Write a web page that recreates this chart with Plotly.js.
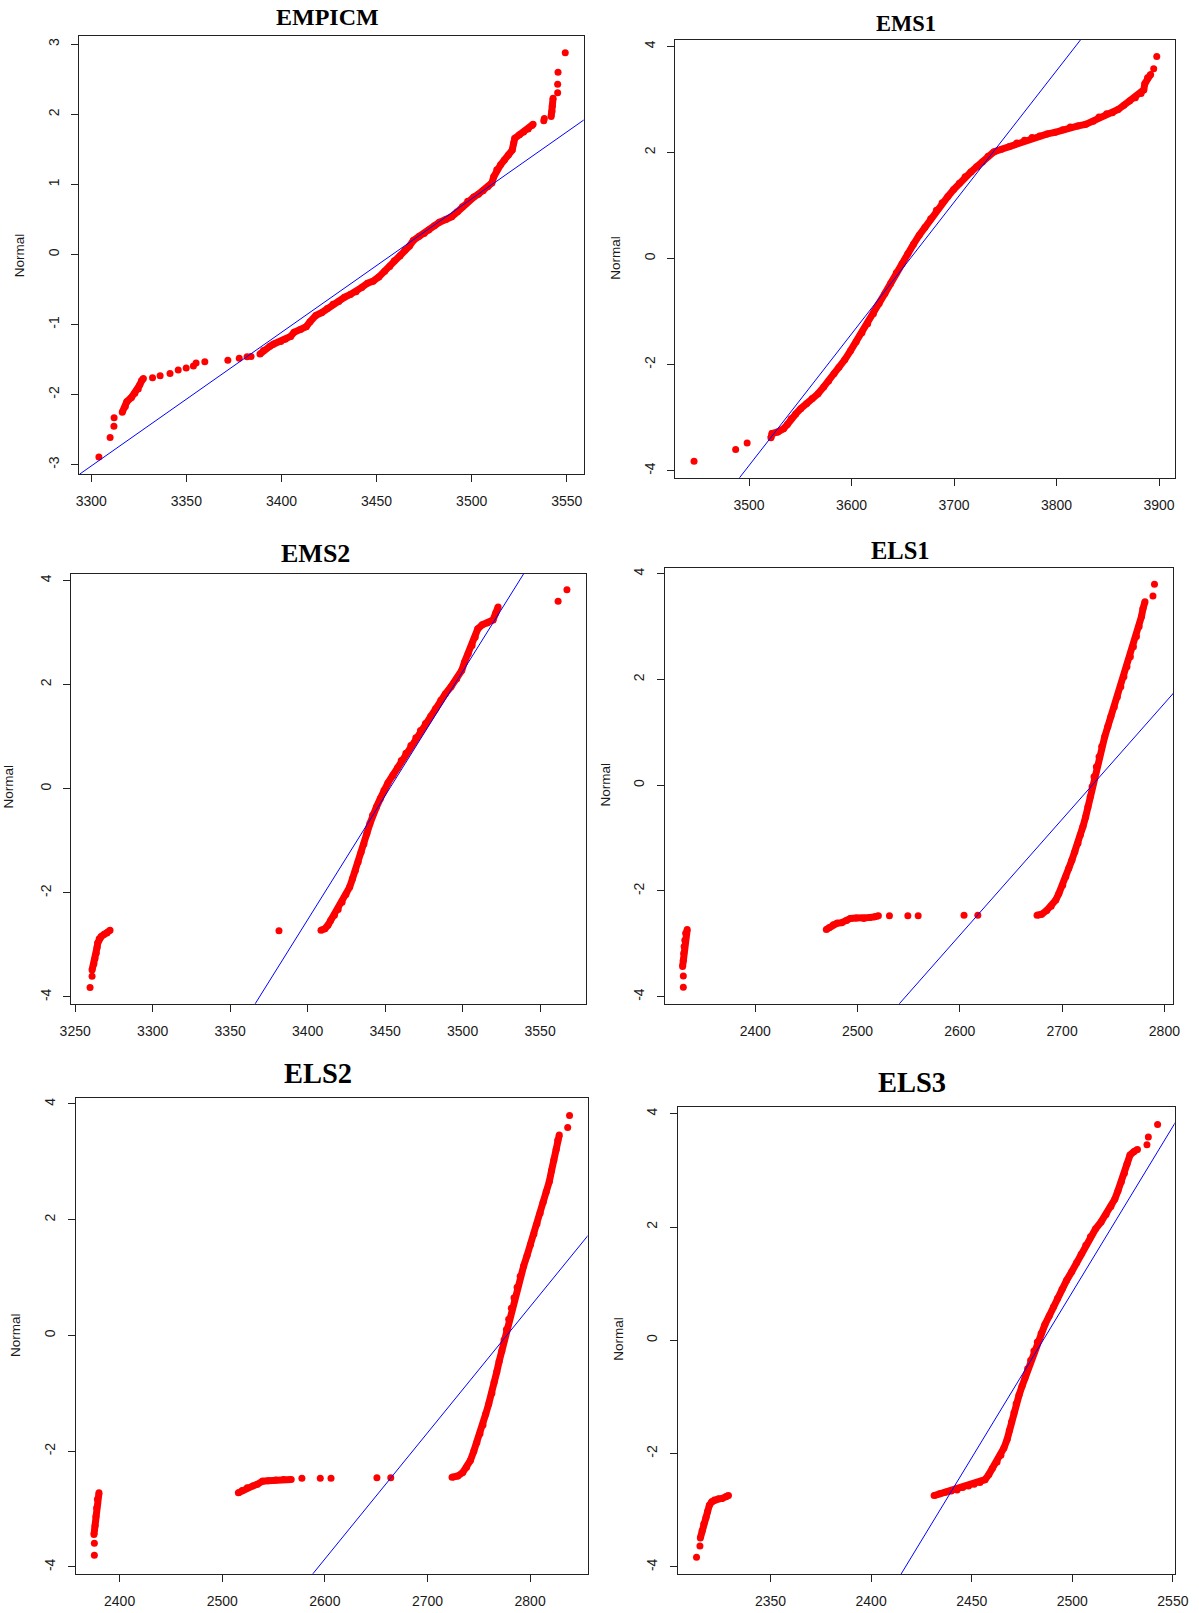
<!DOCTYPE html>
<html>
<head>
<meta charset="utf-8">
<script src="https://cdn.plot.ly/plotly-3.0.1.min.js"></script>
<style>
  html, body { margin: 0; padding: 0; background: #ffffff; }
  #chart { width: 1199px; height: 1613px; }
</style>
</head>
<body>
<div id="chart"></div>
<script>
// Normal Q-Q plots: sorted sample value (x) against the normal quantile (y).
// "Curve" arrays hold densely packed runs of points (runs separated by null),
// "Dot" arrays hold the isolated points, "Line" arrays the reference qq-line.

// ---- EMPICM ----
const empicmCurveX = [3316.3,3317.9,3318.7,3321.1,3322.9,3324.7,3325.5,3326.5,3327.4, null,
  3388.7,3390.5,3393.9,3395.7,3399.6,3402.0,3404.8,3406.6,3410.0,3413.0,
  3415.0,3418.1,3421.1,3424.1,3427.1,3430.1,3433.1,3436.2,3439.2,3442.2,
  3445.2,3448.2,3451.2,3454.3,3456.9,3459.3,3462.3,3464.9,3467.3,3469.3,
  3472.4,3475.0,3477.4,3480.4,3483.0,3486.4,3489.5,3492.5,3495.1,3497.9,
  3501.1,3503.5,3506.0,3508.6,3510.6,3511.6,3513.2,3515.2,3517.2,3519.3,
  3521.3,3522.1,3522.7,3525.1,3527.3,3529.7,3531.7,3532.3, null,
  3541.8,3542.2,3542.4,3542.8];
const empicmCurveY = [-2.25,-2.17,-2.10,-2.04,-1.98,-1.92,-1.86,-1.80,-1.77, null,
  -1.42,-1.37,-1.31,-1.28,-1.24,-1.21,-1.17,-1.11,-1.07,-1.03,
  -0.96,-0.87,-0.83,-0.77,-0.71,-0.67,-0.61,-0.57,-0.53,-0.47,
  -0.41,-0.38,-0.32,-0.24,-0.17,-0.09,-0.02,0.06,0.12,0.20,
  0.26,0.30,0.35,0.41,0.46,0.50,0.54,0.61,0.68,0.76,
  0.82,0.86,0.91,0.97,1.02,1.11,1.21,1.28,1.35,1.42,
  1.49,1.59,1.66,1.71,1.75,1.79,1.84,1.86, null,
  1.97,2.04,2.12,2.23];
const empicmDotX = [3304.0,3309.9,3311.9,3312.0,3332.2,3336.2,3341.4,3345.7,3349.9,3353.7,3355.1,
  3359.7,3371.8,3377.8,3381.9,3384.0,3537.9,3538.2,3545.2,3545.2,3545.4,3549.2];
const empicmDotY = [-2.89,-2.61,-2.45,-2.33,-1.76,-1.73,-1.70,-1.65,-1.62,-1.59,-1.55,
  -1.53,-1.51,-1.48,-1.46,-1.455,1.91,1.94,2.31,2.43,2.60,2.88];
const empicmLineX = [3290, 3562];
const empicmLineY = [-3.209, 1.978];
const empicmXTicks = [3300, 3350, 3400, 3450, 3500, 3550];
const empicmYTicks = [-3, -2, -1, 0, 1, 2, 3];

// ---- EMS1 ----
const ems1CurveX = [3521.3,3522.4,3528.0,3533.6,3537.3,3541.0,3545.5,3550.4,3556.0,3561.6,
  3567.2,3572.8,3577.6,3582.8,3587.7,3593.3,3598.9,3604.5,3610.1,3615.7,
  3621.3,3626.9,3632.5,3638.1,3643.7,3649.3,3654.9,3660.4,3666.0,3671.6,
  3677.2,3682.8,3688.4,3694.0,3699.6,3705.2,3710.8,3716.4,3722.0,3727.6,
  3733.2,3738.8,3746.3,3753.7,3761.2,3768.7,3776.1,3783.6,3791.0,3798.5,
  3806.0,3813.4,3820.9,3828.4,3835.8,3841.4,3848.9,3854.5,3860.1,3865.7,
  3871.3,3876.9,3882.5,3885.1,3886.2,3888.8,3891.8];
const ems1CurveY = [-3.38,-3.30,-3.27,-3.21,-3.13,-3.02,-2.93,-2.83,-2.74,-2.64,
  -2.55,-2.42,-2.31,-2.17,-2.05,-1.91,-1.74,-1.57,-1.40,-1.23,
  -1.04,-0.85,-0.66,-0.47,-0.27,-0.10,0.09,0.27,0.44,0.59,
  0.75,0.91,1.05,1.17,1.30,1.42,1.54,1.63,1.73,1.82,
  1.93,2.01,2.06,2.11,2.18,2.23,2.28,2.31,2.35,2.38,
  2.43,2.48,2.50,2.53,2.59,2.67,2.73,2.75,2.81,2.89,
  2.97,3.03,3.11,3.18,3.30,3.41,3.47];
const ems1DotX = [3446.3, 3486.9, 3498.1, 3894.8, 3897.8];
const ems1DotY = [-3.82, -3.60, -3.48, 3.58, 3.81];
const ems1LineX = [3488, 3826];
const ems1LineY = [-4.199, 4.187];
const ems1XTicks = [3500, 3600, 3700, 3800, 3900];
const ems1YTicks = [-4, -2, 0, 2, 4];

// ---- EMS2 ----
const ems2CurveX = [3260.9,3262.1,3262.8,3263.6,3264.1,3264.6,3265.5,3266.8,3268.5,3270.5,3272.5, null,
  3408.6,3411.1,3413.1,3414.8,3417.3,3419.7,3422.2,3424.7,3427.1,3428.9,
  3430.8,3432.6,3434.5,3436.3,3438.2,3440.2,3441.9,3444.4,3446.9,3449.3,
  3451.8,3455.0,3458.0,3460.4,3463.4,3466.6,3469.8,3472.8,3476.0,3479.4,
  3482.6,3485.9,3488.8,3492.5,3496.2,3499.4,3501.2,3503.6,3506.1,3508.1,
  3509.8,3512.7,3515.9,3519.6,3521.3,3522.9];
const ems2CurveY = [-3.48,-3.36,-3.26,-3.16,-3.05,-2.96,-2.88,-2.84,-2.80,-2.77,-2.72, null,
  -2.72,-2.69,-2.62,-2.53,-2.43,-2.32,-2.18,-2.03,-1.89,-1.73,
  -1.57,-1.41,-1.22,-1.06,-0.86,-0.67,-0.51,-0.35,-0.19,-0.03,
  0.11,0.26,0.40,0.54,0.68,0.83,0.98,1.12,1.25,1.39,
  1.54,1.70,1.82,1.96,2.11,2.27,2.43,2.59,2.75,2.91,
  3.07,3.15,3.18,3.24,3.37,3.49];
const ems2DotX = [3259.6, 3260.9, 3381.5, 3561.6, 3567.3];
const ems2DotY = [-3.82, -3.60, -2.73, 3.60, 3.82];
const ems2LineX = [3365, 3541];
const ems2LineY = [-4.185, 4.205];
const ems2XTicks = [3250, 3300, 3350, 3400, 3450, 3500, 3550];
const ems2YTicks = [-4, -2, 0, 2, 4];

// ---- ELS1 ----
const els1CurveX = [2329.0,2329.7,2330.1,2330.5,2331.2,2332.0,2333.5, null,
  2469.5,2472.5,2476.3,2480.0,2484.5,2489.3,2493.1,2498.7,2506.2,2511.8,2516.6,2520.4, null,
  2675.5,2680.0,2684.9,2689.3,2693.8,2696.8,2700.6,2703.6,2706.5,2709.5,
  2712.5,2715.5,2717.8,2720.4,2723.0,2725.2,2727.5,2729.3,2731.2,2733.5,
  2736.1,2738.7,2741.7,2744.7,2747.7,2751.0,2754.0,2757.4,2760.4,2763.4,
  2766.7,2769.7,2772.7,2775.3,2777.6,2779.1,2781.0];
const els1CurveY = [-3.43,-3.31,-3.18,-3.05,-2.93,-2.80,-2.73, null,
  -2.73,-2.69,-2.64,-2.61,-2.60,-2.56,-2.52,-2.51,-2.52,-2.50,-2.49,-2.47, null,
  -2.46,-2.44,-2.37,-2.29,-2.17,-2.05,-1.89,-1.73,-1.57,-1.42,
  -1.26,-1.10,-0.94,-0.78,-0.60,-0.41,-0.22,-0.03,0.16,0.35,
  0.54,0.73,0.92,1.11,1.30,1.48,1.67,1.86,2.05,2.24,
  2.43,2.62,2.81,3.00,3.19,3.34,3.47];
const els1DotX = [2329.7, 2329.7, 2531.2, 2549.2, 2559.3, 2604.1, 2617.6, 2788.8, 2790.3];
const els1DotY = [-3.82, -3.61, -2.47, -2.47, -2.47, -2.46, -2.46, 3.58, 3.80];
const els1LineX = [2538, 2812];
const els1LineY = [-4.196, 1.810];
const els1XTicks = [2400, 2500, 2600, 2700, 2800];
const els1YTicks = [-4, -2, 0, 2, 4];

// ---- ELS2 ----
const els2CurveX = [2375.0,2376.1,2376.9,2377.6,2378.4,2379.9, null,
  2515.7,2519.4,2524.3,2529.9,2534.3,2539.2,2544.8,2552.2,2559.7,2567.2, null,
  2723.9,2729.5,2734.3,2738.1,2741.8,2745.1,2748.1,2751.1,2754.1,2756.7,
  2759.7,2762.7,2764.9,2767.5,2769.8,2772.4,2774.6,2776.9,2779.1,2781.7,
  2784.3,2787.3,2790.3,2793.7,2797.0,2800.4,2803.7,2806.7,2809.7,2812.7,
  2815.7,2818.7,2820.9,2823.1,2825.4,2826.9,2828.4];
const els2CurveY = [-3.44,-3.29,-3.13,-2.98,-2.83,-2.72, null,
  -2.72,-2.68,-2.63,-2.60,-2.57,-2.52,-2.51,-2.50,-2.49,-2.49, null,
  -2.45,-2.43,-2.37,-2.28,-2.16,-2.00,-1.85,-1.70,-1.55,-1.36,
  -1.18,-1.00,-0.81,-0.63,-0.45,-0.27,-0.08,0.10,0.28,0.47,
  0.65,0.83,1.02,1.20,1.38,1.57,1.75,1.93,2.11,2.30,
  2.48,2.66,2.85,3.03,3.21,3.37,3.46];
const els2DotX = [2375.4, 2375.4, 2577.6, 2595.5, 2606.0, 2650.7, 2664.2, 2836.6, 2838.4];
const els2DotY = [-3.80, -3.59, -2.47, -2.47, -2.47, -2.46, -2.46, 3.59, 3.80];
const els2LineX = [2585, 2860];
const els2LineY = [-4.190, 1.805];
const els2XTicks = [2400, 2500, 2600, 2700, 2800];
const els2YTicks = [-4, -2, 0, 2, 4];

// ---- ELS3 ----
const els3CurveX = [2315.1,2316.0,2316.8,2317.9,2318.7,2319.6,2320.8,2322.1,2324.0,2325.9,2327.8,2329.1, null,
  2431.3,2434.1,2437.0,2439.8,2442.7,2445.5,2448.4,2451.2,2454.1,2456.6,
  2458.5,2460.3,2462.6,2464.5,2466.0,2467.6,2468.7,2469.8,2471.0,2472.1,
  2473.5,2475.0,2476.5,2477.8,2479.3,2480.9,2482.6,2484.5,2486.4,2488.5,
  2490.6,2492.6,2494.9,2497.2,2499.7,2502.1,2504.4,2506.7,2509.0,2511.6,
  2514.3,2516.8,2519.2,2521.1,2522.7,2524.4,2525.9,2527.2,2528.7,2530.6,2532.4];
const els3CurveY = [-3.49,-3.36,-3.24,-3.13,-3.02,-2.91,-2.85,-2.82,-2.80,-2.79,-2.76,-2.74, null,
  -2.74,-2.71,-2.68,-2.66,-2.64,-2.60,-2.57,-2.54,-2.51,-2.46,
  -2.37,-2.26,-2.15,-2.03,-1.90,-1.75,-1.59,-1.44,-1.28,-1.12,
  -0.97,-0.81,-0.66,-0.50,-0.35,-0.19,-0.03,0.12,0.28,0.43,
  0.59,0.74,0.90,1.06,1.21,1.37,1.52,1.68,1.83,1.97,
  2.09,2.22,2.36,2.49,2.64,2.80,2.95,3.11,3.27,3.33,3.37];
const els3DotX = [2313.2, 2314.9, 2537.1, 2537.8, 2542.4];
const els3DotY = [-3.83, -3.63, 3.45, 3.59, 3.81];
const els3LineX = [2413, 2553];
const els3LineY = [-4.236, 3.949];
const els3XTicks = [2350, 2400, 2450, 2500, 2550];
const els3YTicks = [-4, -2, 0, 2, 4];

// Page geometry (pixels) for each panel: plot box, axis ranges, title and y-label spots.
const W = 1199, H = 1613;
const panels = [
  { title: 'EMPICM', titleSize: 24, titlePos: [327, 16.7], ylabPos: [20.3, 255],
    box: [79.3, 35.7, 583.7, 474.3], xRange: [3293.7, 3558.9], yRange: [-3.137, 3.123],
    cx: empicmCurveX, cy: empicmCurveY, dx: empicmDotX, dy: empicmDotY,
    lx: empicmLineX, ly: empicmLineY, xt: empicmXTicks, yt: empicmYTicks },
  { title: 'EMS1', titleSize: 22.5, titlePos: [906.3, 23.3], ylabPos: [615.7, 258],
    box: [675.3, 39.7, 1174.7, 477.7], xRange: [3428.0, 3915.3], yRange: [-4.132, 4.126],
    cx: ems1CurveX, cy: ems1CurveY, dx: ems1DotX, dy: ems1DotY,
    lx: ems1LineX, ly: ems1LineY, xt: ems1XTicks, yt: ems1YTicks },
  { title: 'EMS2', titleSize: 26, titlePos: [315, 553.7], ylabPos: [8.8, 786.7],
    box: [71.3, 573.7, 586.0, 1003.7], xRange: [3247.5, 3579.6], yRange: [-4.129, 4.129],
    cx: ems2CurveX, cy: ems2CurveY, dx: ems2DotX, dy: ems2DotY,
    lx: ems2LineX, ly: ems2LineY, xt: ems2XTicks, yt: ems2YTicks },
  { title: 'ELS1', titleSize: 24.5, titlePos: [900.2, 550.3], ylabPos: [604.5, 785],
    box: [664.6, 567.7, 1173.2, 1003.7], xRange: [2311.4, 2808.6], yRange: [-4.132, 4.113],
    cx: els1CurveX, cy: els1CurveY, dx: els1DotX, dy: els1DotY,
    lx: els1LineX, ly: els1LineY, xt: els1XTicks, yt: els1YTicks },
  { title: 'ELS2', titleSize: 28.5, titlePos: [317.9, 1073.4], ylabPos: [14.8, 1335.2],
    box: [76, 1097.5, 587.5, 1573.7], xRange: [2357.5, 2855.9], yRange: [-4.117, 4.11],
    cx: els2CurveX, cy: els2CurveY, dx: els2DotX, dy: els2DotY,
    lx: els2LineX, ly: els2LineY, xt: els2XTicks, yt: els2YTicks },
  { title: 'ELS3', titleSize: 28.5, titlePos: [912.1, 1082.9], ylabPos: [618.6, 1339.2],
    box: [678, 1107, 1174.7, 1574.3], xRange: [2304.0, 2550.9], yRange: [-4.13, 4.118],
    cx: els3CurveX, cy: els3CurveY, dx: els3DotX, dy: els3DotY,
    lx: els3LineX, ly: els3LineY, xt: els3XTicks, yt: els3YTicks }
];

const RED = '#ff0000';
const BLUE = '#0000ff';
const AXIS = '#222222';
const tickFont = { family: 'Liberation Sans, Arial, sans-serif', size: 14, color: '#1a1a1a' };

const traces = [];
const layout = {
  width: W, height: H,
  margin: { l: 0, r: 0, t: 0, b: 0 },
  paper_bgcolor: '#ffffff', plot_bgcolor: '#ffffff',
  showlegend: false,
  annotations: []
};

panels.forEach((p, i) => {
  const n = i + 1;
  const xa = 'x' + (n === 1 ? '' : n), ya = 'y' + (n === 1 ? '' : n);
  const xKey = 'xaxis' + (n === 1 ? '' : n), yKey = 'yaxis' + (n === 1 ? '' : n);
  const [x0, y0, x1, y1] = p.box;

  // dense runs: thick red line joining the packed points
  traces.push({ type: 'scatter', mode: 'lines', x: p.cx, y: p.cy, xaxis: xa, yaxis: ya,
    connectgaps: false, line: { color: RED, width: 7 }, hoverinfo: 'skip' });
  // every point as a filled circle
  traces.push({ type: 'scatter', mode: 'markers',
    x: p.cx.filter(v => v !== null).concat(p.dx),
    y: p.cy.filter(v => v !== null).concat(p.dy),
    xaxis: xa, yaxis: ya, marker: { color: RED, size: 7, line: { width: 0 } } });
  // reference line on top
  traces.push({ type: 'scatter', mode: 'lines', x: p.lx, y: p.ly, xaxis: xa, yaxis: ya,
    line: { color: BLUE, width: 1 } });

  const common = {
    showgrid: false, zeroline: false, showline: true, mirror: true,
    linecolor: AXIS, linewidth: 1, ticks: 'outside', ticklen: 7, tickwidth: 1,
    tickcolor: AXIS, tickfont: tickFont, tickmode: 'array', fixedrange: true
  };
  layout[xKey] = Object.assign({}, common, {
    domain: [x0 / W, x1 / W], range: p.xRange, anchor: ya,
    tickvals: p.xt, ticktext: p.xt.map(String), ticklabelstandoff: 7
  });
  layout[yKey] = Object.assign({}, common, {
    domain: [1 - y1 / H, 1 - y0 / H], range: p.yRange, anchor: xa,
    tickvals: p.yt, ticktext: p.yt.map(String), tickangle: -90, ticklabelstandoff: 7
  });

  layout.annotations.push({
    xref: 'paper', yref: 'paper', x: p.titlePos[0] / W, y: 1 - p.titlePos[1] / H,
    xanchor: 'center', yanchor: 'middle', showarrow: false,
    text: '<b>' + p.title + '</b>',
    font: { family: 'Liberation Serif, Times New Roman, serif', size: p.titleSize, color: '#000000' }
  });
  layout.annotations.push({
    xref: 'paper', yref: 'paper', x: p.ylabPos[0] / W, y: 1 - p.ylabPos[1] / H,
    xanchor: 'center', yanchor: 'middle', showarrow: false, textangle: -90,
    text: 'Normal',
    font: { family: 'Liberation Sans, Arial, sans-serif', size: 13.5, color: '#1a1a1a' }
  });
});

Plotly.newPlot('chart', traces, layout, { displayModeBar: false, staticPlot: true });
</script>
</body>
</html>
